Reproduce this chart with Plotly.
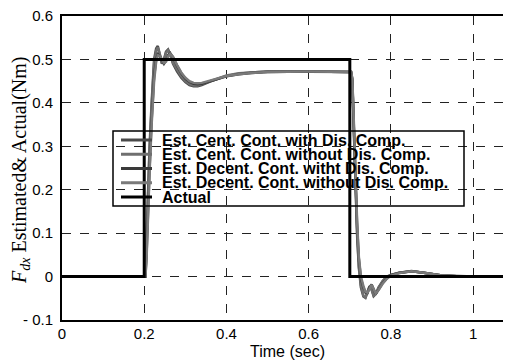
import plotly.graph_objects as go

# ---------------- data ----------------
time_est = [0.0, 0.2, 0.203, 0.206, 0.209, 0.213, 0.218, 0.224, 0.229, 0.233, 0.238, 0.243,
            0.248, 0.253, 0.258, 0.263, 0.27, 0.28, 0.29, 0.30, 0.31, 0.32, 0.33, 0.34, 0.36,
            0.38, 0.40, 0.43, 0.46, 0.5, 0.6, 0.703, 0.706, 0.71, 0.714, 0.718, 0.722, 0.727,
            0.733, 0.738, 0.743, 0.748, 0.753, 0.758, 0.763, 0.77, 0.78, 0.79, 0.80, 0.82,
            0.85, 0.88, 0.92, 0.96, 1.0, 1.1]

cent_with = [0, 0, 0.0, 0.1, 0.2, 0.3, 0.4, 0.5, 0.525, 0.531, 0.51, 0.49, 0.50, 0.518, 0.523,
             0.512, 0.49, 0.472, 0.458, 0.448, 0.441, 0.438, 0.438, 0.441, 0.449, 0.456, 0.462,
             0.467, 0.470, 0.472, 0.472, 0.471, 0.45, 0.31, 0.18, 0.09, 0.02, -0.025, -0.046,
             -0.049, -0.035, -0.022, -0.03, -0.045, -0.04, -0.025, -0.01, 0.0, 0.004, 0.009,
             0.013, 0.009, 0.003, 0.001, 0.0, 0.0]
cent_without = [0, 0, 0.0, 0.09, 0.19, 0.29, 0.39, 0.49, 0.52, 0.528, 0.512, 0.492, 0.498, 0.515,
                0.521, 0.512, 0.492, 0.475, 0.461, 0.45, 0.443, 0.44, 0.44, 0.443, 0.45, 0.457,
                0.463, 0.468, 0.470, 0.472, 0.472, 0.471, 0.452, 0.32, 0.19, 0.095, 0.025, -0.02,
                -0.044, -0.048, -0.036, -0.023, -0.03, -0.044, -0.04, -0.026, -0.011, -0.001,
                0.004, 0.009, 0.012, 0.009, 0.003, 0.001, 0.0, 0.0]
decent_with = [0, 0, 0.0, 0.06, 0.15, 0.25, 0.36, 0.46, 0.5, 0.512, 0.508, 0.5, 0.49, 0.497, 0.51,
               0.515, 0.505, 0.485, 0.468, 0.456, 0.448, 0.444, 0.443, 0.444, 0.45, 0.456, 0.461,
               0.466, 0.469, 0.471, 0.472, 0.471, 0.455, 0.34, 0.21, 0.11, 0.04, -0.005, -0.025,
               -0.037, -0.038, -0.025, -0.018, -0.03, -0.04, -0.03, -0.015, -0.004, 0.003, 0.008,
               0.012, 0.009, 0.003, 0.001, 0.0, 0.0]
decent_without = [0, 0, 0.0, 0.05, 0.14, 0.24, 0.35, 0.45, 0.495, 0.51, 0.508, 0.501, 0.492, 0.495,
                  0.507, 0.513, 0.506, 0.487, 0.47, 0.458, 0.45, 0.446, 0.445, 0.446, 0.451, 0.457,
                  0.462, 0.466, 0.469, 0.471, 0.472, 0.471, 0.457, 0.35, 0.22, 0.12, 0.045, 0.0,
                  -0.022, -0.035, -0.037, -0.026, -0.019, -0.029, -0.039, -0.031, -0.016, -0.005,
                  0.002, 0.008, 0.012, 0.009, 0.003, 0.001, 0.0, 0.0]

time_actual = [0.0, 0.2, 0.2, 0.7, 0.7, 1.1]
actual = [0.0, 0.0, 0.5, 0.5, 0.0, 0.0]

series_names = ["Est. Cent. Cont. with Dis. Comp.",
                "Est. Cent. Cont. without Dis. Comp.",
                "Est. Decent. Cont. witht Dis. Comp.",
                "Est. Decent. Cont. without Dis. Comp.",
                "Actual"]
series_colors = ["#4a4a4a", "#6f6f6f", "#3a3a3a", "#7a7a7a", "#000000"]

x_tickvals = [0, 0.2, 0.4, 0.6, 0.8, 1.0]
x_ticktext = ["0", "0.2", "0.4", "0.6", "0.8", "1"]
y_tickvals = [-0.1, 0, 0.1, 0.2, 0.3, 0.4, 0.5, 0.6]
y_ticktext = ["- 0.1", "0", "0.1", "0.2", "0.3", "0.4", "0.5", "0.6"]

# ---------------- layout constants (window pixels) ----------------
OFF = 8                      # default page body margin
W, H = 511, 360
PL, PT, PR, PB = 62, 16, 511, 320   # plot area in window pixels
ML, MT = PL - OFF, PT - OFF
MR = W - (PR - OFF)
MB = H - (PB - OFF)
PW, PH = PR - PL, PB - PT


def px(x):
    return (x - PL) / PW


def py(y):
    return (PB - y) / PH


fig = go.Figure()
est_series = [cent_with, cent_without, decent_with, decent_without]
for name, vals, col in zip(series_names[:4], est_series, series_colors[:4]):
    fig.add_trace(go.Scatter(x=time_est, y=vals, mode="lines", name=name,
                             line=dict(color=col, width=2.5), showlegend=False))
fig.add_trace(go.Scatter(x=time_actual, y=actual, mode="lines", name=series_names[4],
                         line=dict(color=series_colors[4], width=3), showlegend=False))

shapes = []
annotations = []
# manual legend (transparent box)
shapes.append(dict(type="rect", xref="paper", yref="paper",
                   x0=px(113), x1=px(464), y0=py(206), y1=py(131),
                   line=dict(color="black", width=1.5), fillcolor="rgba(0,0,0,0)"))
for i, (name, col) in enumerate(zip(series_names, series_colors)):
    yy = 140 + i * 14.25
    shapes.append(dict(type="line", xref="paper", yref="paper",
                       x0=px(121), x1=px(152), y0=py(yy), y1=py(yy),
                       line=dict(color=col, width=3)))
    annotations.append(dict(text="<b>" + name + "</b>", xref="paper", yref="paper",
                            x=px(160), y=py(yy), xanchor="left", yanchor="middle",
                            showarrow=False,
                            font=dict(family="Arial, Liberation Sans", size=16, color="black")))

# axis titles
annotations.append(dict(text="Time (sec)", xref="paper", yref="paper",
                        x=px(287), y=py(352), xanchor="center", yanchor="middle",
                        showarrow=False,
                        font=dict(family="Arial, Liberation Sans", size=16, color="black")))
annotations.append(dict(text="<i>F</i><sub><i>dx</i></sub> Estimated& Actual(Nm)",
                        xref="paper", yref="paper", x=px(20), y=py(170),
                        xanchor="center", yanchor="middle", textangle=-90, showarrow=False,
                        font=dict(family="Times New Roman, Liberation Serif", size=20,
                                  color="black")))

fig.update_layout(
    width=W, height=H,
    margin=dict(l=ML, r=MR, t=MT, b=MB, pad=0, autoexpand=False),
    paper_bgcolor="white", plot_bgcolor="white",
    showlegend=False,
    shapes=shapes, annotations=annotations,
    xaxis=dict(range=[0, 1.092], tickvals=x_tickvals, ticktext=x_ticktext,
               showgrid=True, gridcolor="#222", griddash="dash", gridwidth=1,
               showline=True, linecolor="black", linewidth=2, mirror=True,
               ticks="", zeroline=False, ticklabelstandoff=-1, automargin=False,
               ticklabeloverflow="allow",
               tickfont=dict(family="Arial, Liberation Sans", size=15, color="black")),
    yaxis=dict(range=[-0.1, 0.6], tickvals=y_tickvals, ticktext=y_ticktext,
               showgrid=True, gridcolor="#222", griddash="dash", gridwidth=1,
               showline=True, linecolor="black", linewidth=2, mirror=False,
               ticks="", zeroline=False, ticklabelstandoff=4, automargin=False,
               ticklabeloverflow="allow",
               tickfont=dict(family="Arial, Liberation Sans", size=15, color="black")),
)

fig.write_html("out.html")
